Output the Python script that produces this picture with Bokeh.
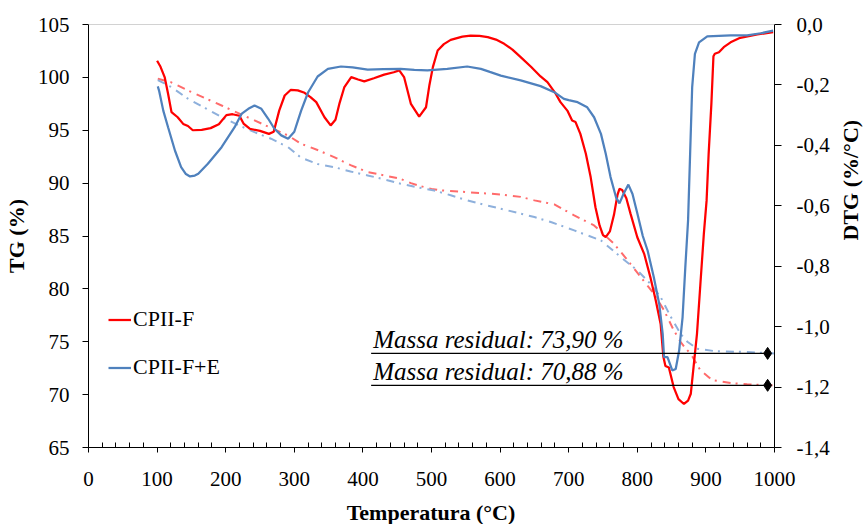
import math
from bokeh.plotting import figure
from bokeh.layouts import row, column
from bokeh.models import (Range1d, LinearAxis, FixedTicker, CustomJSTickFormatter,
                          Legend, LegendItem, Label, Span)
from bokeh.embed import file_html
from bokeh.resources import INLINE

# ---------------- data ----------------
# DTG (%/°C) – right axis
red_dtg_t = [100, 105, 111, 116, 121, 130, 138, 145, 152, 165, 178, 190, 201, 210, 220, 226,
             235, 250, 263, 270, 278, 286, 295, 305, 315, 324, 332, 344, 353, 360, 366, 373,
             383, 393, 402, 416, 431, 445, 453, 460, 470, 482, 492, 497, 502, 509, 518, 528,
             545, 557, 570, 582, 594, 606, 618, 630, 645, 659, 669, 681, 688, 698, 705, 710,
             717, 725, 732, 739, 745, 750, 754, 760, 766, 771, 774, 778, 784, 790, 800, 810,
             819, 827, 834, 838, 841, 846, 853, 860, 868, 874, 878, 882, 887, 892, 897, 901,
             904, 908, 911, 913, 919, 926, 936, 950, 975, 998]
red_dtg_v = [-0.12, -0.14, -0.174, -0.229, -0.29, -0.307, -0.329, -0.336, -0.35, -0.349, -0.343,
             -0.33, -0.30, -0.297, -0.302, -0.328, -0.345, -0.352, -0.362, -0.355, -0.285, -0.235,
             -0.216, -0.218, -0.226, -0.241, -0.257, -0.307, -0.334, -0.315, -0.26, -0.207, -0.174,
             -0.182, -0.188, -0.178, -0.166, -0.158, -0.152, -0.174, -0.263, -0.305, -0.274, -0.2,
             -0.141, -0.086, -0.065, -0.051, -0.040, -0.037, -0.038, -0.042, -0.050, -0.064, -0.083,
             -0.108, -0.140, -0.172, -0.191, -0.229, -0.257, -0.285, -0.318, -0.323, -0.362, -0.428,
             -0.505, -0.605, -0.665, -0.697, -0.704, -0.685, -0.630, -0.565, -0.544, -0.548, -0.575,
             -0.625, -0.704, -0.759, -0.836, -0.914, -0.991, -1.10, -1.13, -1.135, -1.20, -1.24,
             -1.256, -1.245, -1.222, -1.134, -1.024, -0.858, -0.693, -0.583, -0.428, -0.262, -0.105,
             -0.097, -0.092, -0.075, -0.059, -0.044, -0.033, -0.025]

blue_dtg_t = [101, 103, 109, 116, 126, 135, 142, 148, 155, 160, 174, 194, 213, 223, 233, 242,
              252, 262, 271, 281, 291, 300, 305, 310, 320, 334, 349, 368, 385, 407, 430, 455,
              475, 494, 523, 552, 572, 585, 601, 630, 659, 679, 693, 700, 713, 727, 737, 747,
              754, 761, 769, 774, 780, 787, 793, 800, 808, 815, 824, 832, 837, 839, 844, 851,
              856, 861, 866, 870, 874, 877, 880, 884, 890, 902, 936, 960, 980, 998]
blue_dtg_v = [-0.205, -0.22, -0.285, -0.340, -0.417, -0.472, -0.495, -0.503, -0.500, -0.494,
              -0.461, -0.406, -0.340, -0.296, -0.279, -0.268, -0.279, -0.312, -0.345, -0.367,
              -0.378, -0.355, -0.32, -0.285, -0.225, -0.172, -0.147, -0.139, -0.142, -0.149,
              -0.148, -0.147, -0.150, -0.152, -0.147, -0.139, -0.147, -0.157, -0.169, -0.185,
              -0.204, -0.224, -0.246, -0.250, -0.257, -0.274, -0.307, -0.362, -0.428, -0.505,
              -0.572, -0.592, -0.560, -0.530, -0.561, -0.625, -0.700, -0.748, -0.836, -0.925,
              -1.024, -1.101, -1.101, -1.145, -1.140, -1.079, -0.969, -0.803, -0.649, -0.428,
              -0.207, -0.097, -0.059, -0.039, -0.036, -0.036, -0.029, -0.020]

# TG (%) – left axis
red_tg_t = [101, 120, 145, 194, 242, 291, 310, 335, 358, 382, 407, 430, 455, 470, 485, 500, 514,
            552, 601, 630, 650, 679, 708, 737, 766, 786, 805, 824, 839, 853, 863, 870, 878, 892,
            905, 912, 936, 960, 994, 1000]
red_tg_v = [99.87, 99.55, 98.76, 97.34, 95.93, 94.5, 93.72, 93.1, 92.46, 91.7, 91.04, 90.75, 90.4,
            90.0, 89.7, 89.45, 89.31, 89.15, 88.93, 88.7, 88.37, 87.99, 86.95, 86.0, 84.27, 82.7,
            81.12, 79.55, 77.97, 76.1, 75.0, 74.4, 73.85, 72.3, 71.6, 71.35, 71.1, 70.97, 70.88,
            70.88]

blue_tg_t = [101, 121, 145, 170, 194, 218, 242, 266, 291, 310, 334, 358, 382, 407, 431, 455, 480,
             504, 528, 552, 577, 601, 625, 650, 675, 688, 708, 747, 776, 800, 819, 834, 849, 863,
             873, 887, 912, 960, 1000]
blue_tg_v = [99.75, 99.07, 97.98, 97.1, 96.24, 95.5, 94.82, 94.2, 93.4, 92.4, 91.8, 91.51, 91.1,
             90.73, 90.35, 89.94, 89.6, 89.31, 88.85, 88.37, 87.95, 87.58, 87.2, 86.79, 86.3, 86.0,
             85.53, 84.58, 83.0, 81.75, 80.49, 79.23, 77.33, 75.76, 75.0, 74.35, 74.12, 74.03, 73.9]

series_names = ["CPII-F", "CPII-F+E"]
residual_mass = [73.90, 70.88]

x_ticks = [0, 100, 200, 300, 400, 500, 600, 700, 800, 900, 1000]
x_minor = [20, 40, 60, 80, 120, 140, 160, 180, 220, 240, 260, 280, 320, 340, 360, 380, 420, 440,
           460, 480, 520, 540, 560, 580, 620, 640, 660, 680, 720, 740, 760, 780, 820, 840, 860,
           880, 920, 940, 960, 980]
tg_ticks = [65, 70, 75, 80, 85, 90, 95, 100, 105]
dtg_ticks = [-1.4, -1.2, -1.0, -0.8, -0.6, -0.4, -0.2, 0.0]

x_title = "Temperatura (°C)"
y_title = "TG (%)"
y2_title = "DTG (%/°C)"

# ---------------- figure ----------------
FONT = "Liberation Serif"
RED = "#FF0000"
BLUE = "#4F81BD"
RED_L = "#FF6B6B"
BLUE_L = "#8EB0DC"

p = figure(width=836, height=500, output_backend="svg", toolbar_location=None,
           x_range=Range1d(0, 1000), y_range=Range1d(65, 105),
           min_border_left=87, min_border_right=62, min_border_top=24, min_border_bottom=53)
p.extra_y_ranges = {"dtg": Range1d(-1.4, 0.0)}
p.xgrid.visible = False
p.ygrid.visible = False
p.outline_line_color = None
p.background_fill_color = "white"
p.border_fill_color = "white"

# x axis
xa = p.xaxis[0]
xa.ticker = FixedTicker(ticks=x_ticks, minor_ticks=x_minor)
xa.major_tick_in = 0
xa.major_tick_out = 5
xa.minor_tick_in = 5
xa.minor_tick_out = 0
xa.axis_line_color = "black"
xa.major_tick_line_color = "black"
xa.minor_tick_line_color = "black"
xa.major_label_text_font = FONT
xa.major_label_text_font_size = "21px"
xa.major_label_text_color = "black"
xa.major_label_standoff = 19

# left axis
ya = p.yaxis[0]
ya.ticker = FixedTicker(ticks=tg_ticks, minor_ticks=[])
ya.major_tick_in = 0
ya.major_tick_out = 6
ya.minor_tick_line_color = None
ya.axis_line_color = "black"
ya.major_tick_line_color = "black"
ya.major_label_text_font = FONT
ya.major_label_text_font_size = "21px"
ya.major_label_text_color = "black"
ya.major_label_standoff = 13
ya.axis_label = y_title
ya.axis_label_text_font = FONT
ya.axis_label_text_font_style = "bold"
ya.axis_label_text_font_size = "22px"
ya.axis_label_text_color = "black"
ya.axis_label_standoff = 6

# right axis
ra = LinearAxis(y_range_name="dtg",
                ticker=FixedTicker(ticks=dtg_ticks, minor_ticks=[]),
                formatter=CustomJSTickFormatter(code="return tick.toFixed(1).replace('.', ',');"))
ra.major_tick_in = 0
ra.major_tick_out = 7
ra.minor_tick_line_color = None
ra.axis_line_color = "black"
ra.major_tick_line_color = "black"
ra.major_label_text_font = FONT
ra.major_label_text_font_size = "21px"
ra.major_label_text_color = "black"
ra.major_label_standoff = 15
p.add_layout(ra, "right")

# top border (grey)
p.add_layout(Span(location=105, dimension="width", line_color="#A6A6A6", line_width=1))

# TG curves (dash-dot)
p.line(red_tg_t, red_tg_v, line_color=RED_L, line_width=2, line_dash="8 5 2 6")
p.line(blue_tg_t, blue_tg_v, line_color=BLUE_L, line_width=2, line_dash="8 5 2 6")

# DTG curves (solid)
r_red = p.line(red_dtg_t, red_dtg_v, line_color=RED, line_width=2.25, y_range_name="dtg")
r_blue = p.line(blue_dtg_t, blue_dtg_v, line_color=BLUE, line_width=2.25, y_range_name="dtg")

# residual mass annotations
n = len(residual_mass)
p.segment(x0=[412] * n, y0=residual_mass, x1=[990] * n, y1=residual_mass,
          line_color="black", line_width=1.2)
p.scatter(x=[990] * n, y=residual_mass, marker="diamond", size=12,
          fill_color="black", line_color="black")
for v in residual_mass:
    txt = "Massa residual: " + ("%.2f" % v).replace(".", ",") + " %"
    p.add_layout(Label(x=415, y=v, text=txt, text_font=FONT, text_font_style="italic",
                       text_font_size="25px", text_color="black", y_offset=14,
                       text_baseline="middle"))

legend = Legend(items=[LegendItem(label=series_names[0], renderers=[r_red]),
                       LegendItem(label=series_names[1], renderers=[r_blue])],
                location=(20, 67), border_line_color=None, background_fill_alpha=0,
                label_text_font=FONT, label_text_font_size="22px", label_text_color="black",
                glyph_width=23, glyph_height=25, label_height=25, label_standoff=2,
                spacing=22, padding=0, margin=0)
p.add_layout(legend)


def strip(w, h):
    s = figure(width=w, height=h, output_backend="svg", toolbar_location=None,
               x_axis_type=None, y_axis_type=None, x_range=Range1d(0, 1), y_range=Range1d(0, 1),
               min_border=0)
    s.min_border_left = 0
    s.min_border_right = 0
    s.min_border_top = 0
    s.min_border_bottom = 0
    s.outline_line_color = None
    s.xgrid.visible = False
    s.ygrid.visible = False
    s.background_fill_color = "white"
    s.border_fill_color = "white"
    return s


# right axis title strip (text starts at the bottom and reads upwards)
rs = strip(28, 500)
rs.add_layout(Label(x=14, y=207, x_units="screen", y_units="screen", text=y2_title,
                    text_font=FONT, text_font_style="bold", text_font_size="22px",
                    text_color="black", text_align="left", text_baseline="middle",
                    angle=math.pi / 2))

# bottom axis title strip
bs = strip(864, 24)
bs.add_layout(Label(x=430.5, y=11.7, x_units="screen", y_units="screen", text=x_title,
                    text_font=FONT, text_font_style="bold", text_font_size="22px",
                    text_color="black", text_align="center", text_baseline="middle"))

layout = column(row(p, rs, spacing=0), bs, spacing=0)

open("out.html", "w").write(file_html(layout, INLINE))
